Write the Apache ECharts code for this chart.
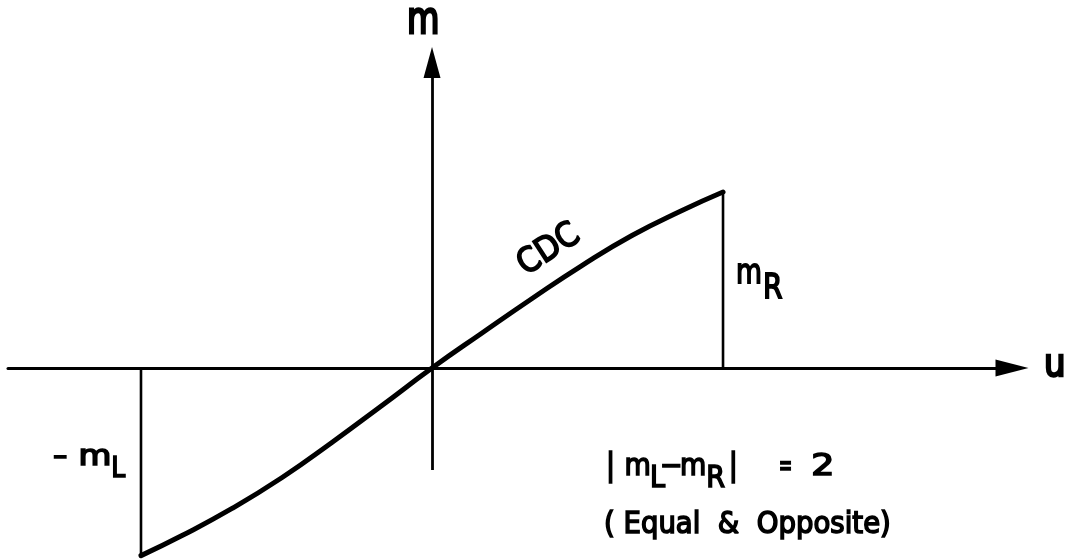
<!DOCTYPE html>
<html>
<head>
<meta charset="utf-8">
<title>CDC</title>
<script src="https://cdn.jsdelivr.net/npm/echarts@6/dist/echarts.min.js"></script>
<style>
  html, body { margin: 0; padding: 0; background: #fff; }
  #chart { width: 1072px; height: 559px; }
</style>
</head>
<body>
<div id="chart"></div>
<script>
// CDC characteristic: m as a function of u, ending at u = ±1
const uPoints = [-1, -0.859, -0.687, -0.515, -0.344, -0.172, 0, 0.172, 0.344, 0.515, 0.687, 0.859, 1];
const mPoints = [-1.066, -0.952, -0.798, -0.622, -0.423, -0.213, 0, 0.199, 0.395, 0.582, 0.753, 0.895, 1.0];

// axis extents (data units)
const uRange = [-1.457, 1.993];
const mRange = [-1.08, 2.0];
const mAxisSpan = [-0.58, 1.736];

const curve = uPoints.map((u, i) => [u, mPoints[i]]);
const last = uPoints.length - 1;
const leftDrop = [[uPoints[0], 0], [uPoints[0], mPoints[0]]];
const rightDrop = [[uPoints[last], 0], [uPoints[last], mPoints[last]]];

const INK = '#000';
const FONT = '"DejaVu Sans", sans-serif';

// lay out a run of glyph pieces (with subscript shifts) left to right
const measureCtx = document.createElement('canvas').getContext('2d');
function textRun(x0, yMid, pieces, size, sy, weight) {
  const font = size + 'px ' + FONT;
  measureCtx.font = font;
  let x = x0;
  const out = [];
  pieces.forEach(p => {
    const sx = p.sx || 1;
    const w = measureCtx.measureText(p.t).width * sx;
    x += (p.pre || 0);
    out.push({
      type: 'text', x: x, y: yMid + (p.dy || 0), scaleX: sx, scaleY: (p.sy || sy), silent: true,
      style: {
        text: p.t, font: font, fill: INK, stroke: INK, lineWidth: weight,
        textAlign: 'left', textVerticalAlign: 'middle'
      }
    });
    x += w + (p.post || 0);
  });
  return out;
}

const chart = echarts.init(document.getElementById('chart'), null, { renderer: 'canvas' });

const graphics = [].concat(
  // axis names
  textRun(407, 22, [{ t: 'm', sx: 0.95 }], 35, 1.25, 2.2),
  textRun(1044, 366, [{ t: 'u' }], 34, 1.15, 2.2),
  // drop labels
  textRun(736, 274, [{ t: 'm', sx: 0.95 }, { t: 'R', dy: 15, pre: 1 }], 28, 1.2, 1.5),
  textRun(53, 458, [{ t: '-', sx: 1.6, post: 11 }, { t: 'm', sx: 1.35 }, { t: 'L', dy: 12, pre: 0 }], 25, 1.1, 1.5),
  // relation
  textRun(606, 467, [
    { t: '|', post: 9.5, sy: 1.15 }, { t: 'm' }, { t: 'L', dy: 12, pre: -1 }, { t: '−', pre: -5 },
    { t: 'm', pre: -2.5 }, { t: 'R', dy: 12 },
    { t: '|', pre: 3.5, sy: 1.15 }, { t: '=', pre: 41, sx: 0.6 }, { t: '2', pre: 19, sx: 1.35 }
  ], 27, 1.1, 1.5),
  textRun(604, 525, [{ t: '( Equal  &  Opposite)', sx: 1.02 }], 27, 1.1, 1.5),
  [{
    type: 'text', x: 549, y: 250, rotation: 33 * Math.PI / 180, scaleY: 1.1, silent: true,
    style: {
      text: 'CDC', font: '31px ' + FONT, fill: INK, stroke: INK, lineWidth: 1.6,
      textAlign: 'center', textVerticalAlign: 'middle'
    }
  }]
);

chart.setOption({
  animation: false,
  backgroundColor: '#fff',
  grid: { left: 8, right: 60, top: 16, bottom: 0.92, containLabel: false, outerBoundsMode: 'none' },
  xAxis: {
    type: 'value', min: uRange[0], max: uRange[1],
    axisLine: {
      show: true, onZero: true,
      symbol: ['none', 'triangle'], symbolSize: [17, 33],
      lineStyle: { color: INK, width: 3 }
    },
    axisTick: { show: false }, axisLabel: { show: false }, splitLine: { show: false }
  },
  yAxis: {
    type: 'value', min: mRange[0], max: mRange[1],
    axisLine: { show: false }, axisTick: { show: false }, axisLabel: { show: false }, splitLine: { show: false }
  },
  series: [
    {
      name: 'CDC', type: 'line', data: curve, showSymbol: false, smooth: 0.5,
      lineStyle: { color: INK, width: 5, cap: 'round', join: 'round' },
      silent: true, z: 3,
      markLine: {
        silent: true, animation: false,
        symbol: ['none', 'triangle'], symbolSize: [17, 31],
        label: { show: false },
        lineStyle: { color: INK, width: 2.8, type: 'solid' },
        emphasis: { disabled: true },
        data: [[{ coord: [0, mAxisSpan[0]] }, { coord: [0, mAxisSpan[1]] }]]
      }
    },
    {
      type: 'line', data: leftDrop, showSymbol: false, silent: true, z: 2,
      lineStyle: { color: INK, width: 2.6 }
    },
    {
      type: 'line', data: rightDrop, showSymbol: false, silent: true, z: 2,
      lineStyle: { color: INK, width: 2.6 }
    }
  ],
  graphic: graphics
});
</script>
</body>
</html>
